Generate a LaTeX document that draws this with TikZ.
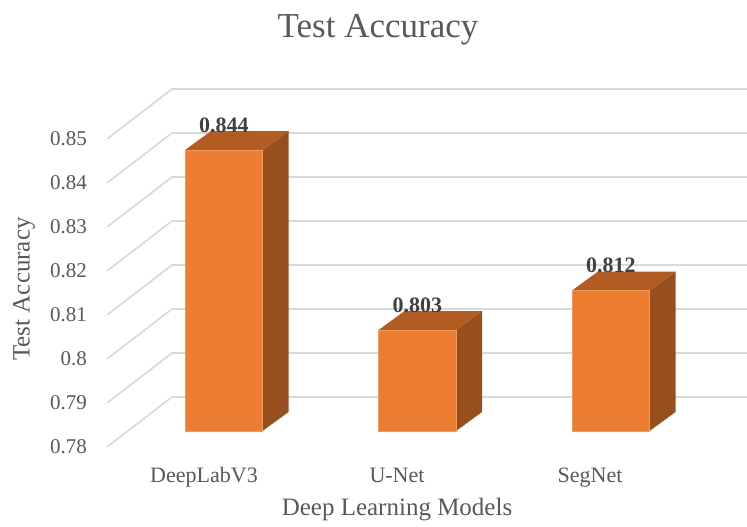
\documentclass[tikz,border=0pt]{standalone}
\usepackage{fontspec}
\setmainfont{Liberation Serif}

\definecolor{gridgray}{HTML}{D9D9D9}
\definecolor{barfront}{HTML}{ED7D31}
\definecolor{baredge}{HTML}{F29A5C}
\definecolor{bartop}{HTML}{B35C22}
\definecolor{barside}{HTML}{984F1E}
\definecolor{txtgray}{HTML}{595959}
\definecolor{valgray}{HTML}{404040}

% One 3-D column: #1 name, #2 left x of front face, #3 value
\newcommand\chartbar[3]{%
  \pgfmathsetmacro\xl{#2}%
  \pgfmathsetmacro\xr{#2+77.5}%
  \pgfmathsetmacro\yt{431-(#3-0.78)*4390}%
  \fill[barside] (\xr,431) -- (\xr+26,412) -- (\xr+26,\yt-19) -- (\xr,\yt) -- cycle;
  \fill[bartop] (\xl,\yt) -- (\xl+26,\yt-19) -- (\xr+26,\yt-19) -- (\xr,\yt) -- cycle;
  \filldraw[fill=barfront,draw=baredge,line width=0.7pt] (\xl,431) rectangle (\xr,\yt);
  \node[vallabel] (#1val) at ({(\xl+\xr)/2},\yt-25) {#3};
}

\begin{document}
\begin{tikzpicture}[x=1pt,y=-1pt,
  gridline/.style={gridgray,line width=1.6pt},
  ticklabel/.style={text=txtgray,font=\fontsize{21}{24}\selectfont,inner sep=0pt,anchor=east},
  catlabel/.style={text=txtgray,font=\fontsize{22}{26}\selectfont,inner sep=0pt,anchor=base},
  axistitle/.style={text=txtgray,font=\fontsize{25}{30}\selectfont,inner sep=0pt,anchor=base},
  charttitle/.style={text=txtgray,font=\fontsize{35}{40}\selectfont,inner sep=0pt,anchor=base},
  vallabel/.style={text=valgray,font=\bfseries\fontsize{22}{26}\selectfont,inner sep=0pt}]

\useasboundingbox[fill=white] (0,0) rectangle (747,527);

% back wall and side wall grid lines with tick labels
\foreach \i/\lab in {0/0.78,1/0.79,2/0.8,3/0.81,4/0.82,5/0.83,6/0.84,7/0.85}{
  \pgfmathsetmacro\yf{447-44*\i}
  \pgfmathsetmacro\yb{\yf-50}
  \draw[gridline] (107,\yf) -- (172,\yb) -- (747,\yb);
  \node[ticklabel] (tick\i) at (87,\yf) {\lab};
}

% columns
\chartbar{deeplab}{185}{0.844}
\chartbar{unet}{378.5}{0.803}
\chartbar{segnet}{572}{0.812}

% category labels
\node[catlabel] (catA) at (204,482) {DeepLabV3};
\node[catlabel] (catB) at (397,482) {U-Net};
\node[catlabel] (catC) at (590,482) {SegNet};

% axis titles and chart title
\node[axistitle] (xtitle) at (397,515) {Deep Learning Models};
\node[axistitle,rotate=90,anchor=center] (ytitle) at (24,289) {Test Accuracy};
\node[charttitle] (title) at (378,38) {Test Accuracy};

\end{tikzpicture}
\end{document}
